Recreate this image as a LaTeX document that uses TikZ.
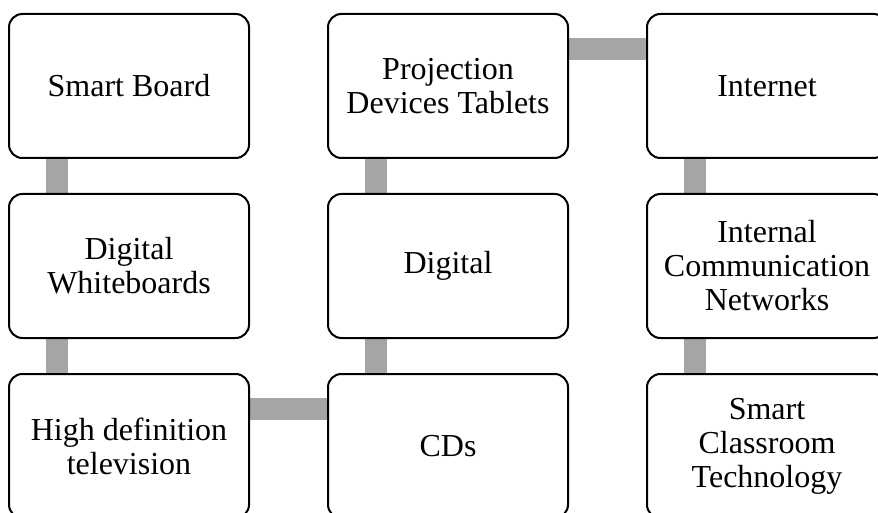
\documentclass[tikz,border=0pt]{standalone}
\usepackage{fontspec}
\setmainfont{Liberation Serif}
\usepackage{xcolor}
\usepackage{tikz}
\usetikzlibrary{positioning}
\usetikzlibrary{backgrounds}
\definecolor{linkgray}{HTML}{A5A5A5}
\tikzset{box/.style={draw=black, fill=white, line width=1.5pt, rounded corners=10pt,
    minimum width=180pt, minimum height=108pt, align=center,
    font=\fontsize{24}{25.5}\selectfont}}
\tikzset{link/.style={draw=linkgray, line width=16.5pt}}

\begin{document}
\begin{tikzpicture}[x=0.75pt, y=0.75pt, node distance={25.5pt and 57.75pt}]
		\clip (0,0) rectangle (878,-513);
		\useasboundingbox (0,0) rectangle (878,-513);
		\node[box] (A) at (129,-86) {Smart Board};
		\node[box] (B) [below=of A] {Digital\\Whiteboards};
		\node[box] (C) [below=of B] {High definition\\television};
		\node[box] (F) [right=of C] {CDs};
		\node[box] (E) [above=of F] {Digital};
		\node[box] (D) [above=of E] {Projection\\Devices Tablets};
		\node[box] (G) [right=of D] {Internet};
		\node[box] (H) [below=of G] {Internal\\Communication\\Networks};
		\node[box] (I) [below=of H] {Smart\\Classroom\\Technology};
		
		\begin{scope}[on background layer]
			\draw[link] ([xshift=36.75pt]A.south west) -- ([xshift=36.75pt]B.north west);
			\draw[link] ([xshift=36.75pt]B.south west) -- ([xshift=36.75pt]C.north west);
			\draw[link] ([yshift=-27pt]C.north east) -- ([yshift=-27pt]F.north west);
			\draw[link] ([xshift=36.75pt]F.north west) -- ([xshift=36.75pt]E.south west);
			\draw[link] ([xshift=36.75pt]E.north west) -- ([xshift=36.75pt]D.south west);
			\draw[link] ([yshift=-27pt]D.north east) -- ([yshift=-27pt]G.north west);
			\draw[link] ([xshift=36.75pt]G.south west) -- ([xshift=36.75pt]H.north west);
			\draw[link] ([xshift=36.75pt]H.south west) -- ([xshift=36.75pt]I.north west);
		\end{scope}
	\end{tikzpicture}
\end{document}
